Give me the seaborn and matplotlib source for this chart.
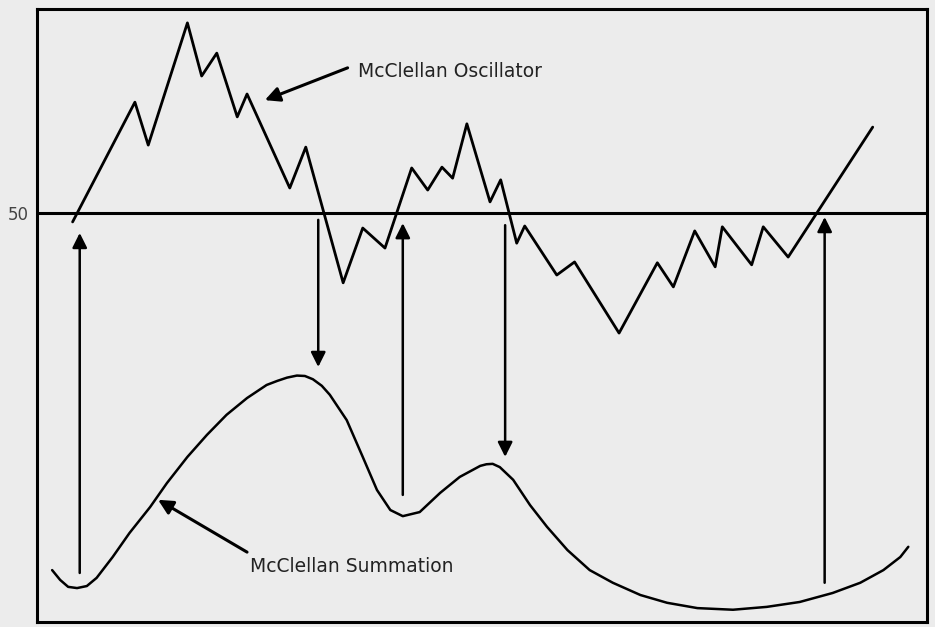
import matplotlib
matplotlib.use('Agg')

import pandas as pd
import matplotlib.pyplot as plt
import seaborn as sns
import numpy as np

# McClellan Oscillator (zig-zag)
osc_x = [4.0, 11.0, 12.5, 16.9, 18.5, 20.2, 22.5, 23.6, 28.4, 30.2, 34.4, 36.6, 39.1,
         42.1, 43.9, 45.5, 46.7, 48.3, 50.9, 52.1, 53.9, 54.8, 58.4, 60.4, 65.4, 69.7,
         71.5, 73.9, 76.2, 77.0, 80.3, 81.6, 84.4, 93.9]
osc_y = [47.9, 77.2, 66.7, 96.6, 83.6, 89.2, 73.6, 79.2, 56.2, 66.2, 33.0, 46.4, 41.5,
         61.1, 55.7, 61.3, 58.6, 71.9, 52.8, 58.2, 42.7, 46.9, 34.9, 38.1, 20.7, 37.9,
         32.0, 45.7, 36.9, 46.7, 37.4, 46.7, 39.3, 71.1]

# McClellan Summation (smooth curve)
sum_x = [1.7, 2.6, 3.5, 4.5, 5.6, 6.7, 8.5, 10.4, 12.7, 14.6, 16.9, 19.1, 21.3, 23.6,
         25.8, 27.0, 28.1, 29.2, 30.1, 31.0, 32.0, 32.9, 34.8, 36.6, 38.2, 39.7, 41.1,
         43.0, 45.3, 47.5, 49.8, 50.5, 51.2, 52.0, 53.5, 55.4, 57.3, 59.6, 62.1, 64.7,
         67.8, 70.8, 74.2, 78.2, 82.0, 85.7, 89.4, 92.5, 95.1, 97.0, 97.9]
sum_y = [-37.3, -39.7, -41.4, -41.7, -41.2, -39.2, -34.1, -28.2, -21.9, -16.0, -9.6, -4.2,
         0.7, 4.8, 8.0, 9.0, 9.8, 10.3, 10.2, 9.4, 7.8, 5.6, -0.6, -9.6, -17.7, -22.6, -24.1,
         -23.1, -18.4, -14.5, -11.8, -11.4, -11.3, -12.1, -15.2, -21.4, -26.7, -32.4, -37.3,
         -40.4, -43.4, -45.3, -46.6, -47.0, -46.3, -45.1, -42.9, -40.4, -37.3, -34.1, -31.6]

# signal arrows: x position, tail, tip
sig_x = [4.8, 31.6, 41.1, 52.6, 88.5]
sig_tail = [-38.0, 48.4, -18.9, 47.1, -40.4]
sig_tip = [45.2, 12.4, 47.6, -9.6, 49.1]

labels = ['McClellan Oscillator', 'McClellan Summation']
label_xy = [(36.1, 84.8), (23.9, -36.5)]
label_tip = [(25.6, 77.7), (13.6, -20.1)]
label_tail = [(34.9, 85.6), (23.6, -32.9)]

bg = '#ececec'
sns.set_style('white', {'axes.facecolor': bg, 'figure.facecolor': bg})

fig = plt.figure(figsize=(9.35, 6.27), dpi=100)
ax = fig.add_axes([37 / 935, 1 - 622 / 627, 890 / 935, 613 / 627])

osc = pd.DataFrame({'x': osc_x, 'y': osc_y})
summ = pd.DataFrame({'x': sum_x, 'y': sum_y})
sns.lineplot(data=osc, x='x', y='y', ax=ax, color='black', lw=2.0, sort=False,
             estimator=None)
sns.lineplot(data=summ, x='x', y='y', ax=ax, color='black', lw=1.8, sort=False,
             estimator=None, solid_joinstyle='round')

ax.axhline(50, color='black', lw=2.2)

for x, t0, t1 in zip(sig_x, sig_tail, sig_tip):
    ax.annotate('', xy=(x, t1), xytext=(x, t0),
                arrowprops=dict(arrowstyle='-|>', color='black', lw=1.8,
                                mutation_scale=22, shrinkA=0, shrinkB=0))

for lab, xy, tip, tail in zip(labels, label_xy, label_tip, label_tail):
    ax.text(xy[0], xy[1], lab, fontsize=13.5, color='#222222', va='center', ha='left')
    ax.annotate('', xy=tip, xytext=tail,
                arrowprops=dict(arrowstyle='-|>', color='black', lw=2.2,
                                mutation_scale=22, shrinkA=0, shrinkB=0))

ax.set_xlim(0, 100)
ax.set_ylim(-50, 100)
ax.set_xticks([])
ax.set_yticks([50])
ax.set_yticklabels(['50'], fontsize=12, color='#444444')
ax.tick_params(axis='y', length=0, pad=6)
ax.set_xlabel('')
ax.set_ylabel('')
for s in ax.spines.values():
    s.set_visible(True)
    s.set_color('black')
    s.set_linewidth(2.2)

fig.savefig('out.png', dpi=100, facecolor=bg)
